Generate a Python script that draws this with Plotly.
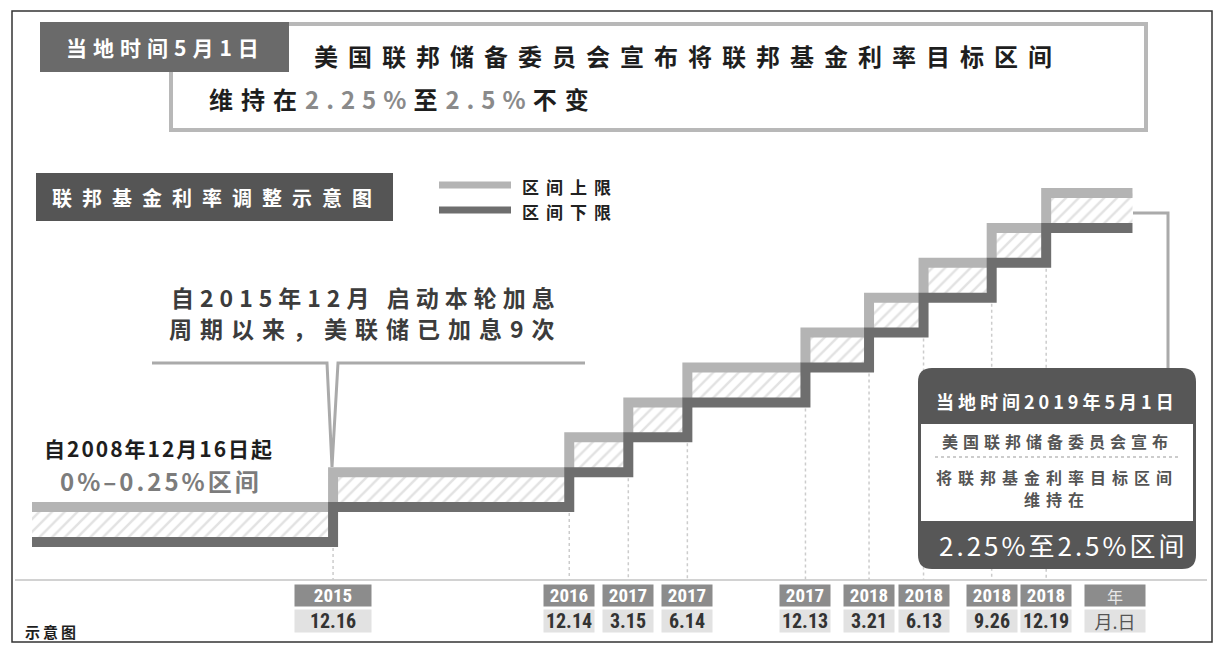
import plotly.graph_objects as go

W, H = 1218, 645

# ---------------- data ----------------
dates = ["2008-12-16", "2015-12-16", "2016-12-14", "2017-03-15", "2017-06-14",
         "2017-12-13", "2018-03-21", "2018-06-13", "2018-09-26", "2018-12-19",
         "2019-05-01"]
upper = [0.25, 0.50, 0.75, 1.00, 1.25, 1.50, 1.75, 2.00, 2.25, 2.50, 2.50]
lower = [0.00, 0.25, 0.50, 0.75, 1.00, 1.25, 1.50, 1.75, 2.00, 2.25, 2.25]

hike_dates = dates[1:10]
hike_years = ["2015", "2016", "2017", "2017", "2017", "2018", "2018", "2018", "2018"]
hike_md = ["12.16", "12.14", "3.15", "6.14", "12.13", "3.21", "6.13", "9.26", "12.19"]

legend_names = ["区间上限", "区间下限"]

# ---------------- helpers ----------------
def X(px):
    return px / W

def Y(py):
    return 1 - py / H

CJK = "Noto Sans CJK SC, Noto Sans, sans-serif"
NARROW = "Liberation Sans Narrow, Roboto Condensed, Roboto, sans-serif"

def sp(s, ls):
    return f'<span style="letter-spacing:{ls}px">{s}</span>'

C_UP = "#b4b4b4"
C_LO = "#6e6e6e"

fig = go.Figure()

# hatch between the bounds
fig.add_trace(go.Scatter(x=dates, y=lower, mode="lines",
                         line=dict(width=0, shape="hv", color="rgba(0,0,0,0)"),
                         hoverinfo="skip", showlegend=False))
fig.add_trace(go.Scatter(x=dates, y=upper, mode="lines",
                         line=dict(width=0, shape="hv", color="rgba(0,0,0,0)"),
                         fill="tonexty", fillcolor="white",
                         fillpattern=dict(shape="/", fgcolor="#c6c6c6", bgcolor="white",
                                          size=9, solidity=0.28),
                         hoverinfo="skip", showlegend=False))
# bounds
fig.add_trace(go.Scatter(x=dates, y=upper, mode="lines", name=legend_names[0],
                         line=dict(width=10, shape="hv", color=C_UP),
                         showlegend=False))
fig.add_trace(go.Scatter(x=dates, y=lower, mode="lines", name=legend_names[1],
                         line=dict(width=10, shape="hv", color=C_LO),
                         showlegend=False))

# y mapping: rate 0 -> 542 px, 139.6 px per 1%
y_zero_px, k = 542, 139.6
y_lo = (y_zero_px - 580) / k
y_hi = (y_zero_px - 150) / k

shapes = []
annos = []

# outer frame
shapes.append(dict(type="rect", xref="paper", yref="paper", x0=X(12), x1=X(1212),
                   y0=Y(642), y1=Y(11), line=dict(color="#333", width=1.5), layer="below"))
# baseline
shapes.append(dict(type="line", xref="paper", yref="paper", x0=X(15), x1=X(1207),
                   y0=Y(580), y1=Y(580), line=dict(color="#d2d2d2", width=2), layer="below"))
# dotted drop lines at each hike
for i, d in enumerate(hike_dates):
    shapes.append(dict(type="line", xref="x", yref="y", x0=d, x1=d,
                       y0=lower[i], y1=y_lo,
                       line=dict(color="#cccccc", width=1.5, dash="dot"), layer="below"))

# header boxes
shapes.append(dict(type="rect", xref="paper", yref="paper", x0=X(171), x1=X(1146),
                   y0=Y(130), y1=Y(24), line=dict(color="#b8b8b8", width=4),
                   fillcolor="white"))
shapes.append(dict(type="rect", xref="paper", yref="paper", x0=X(40), x1=X(289),
                   y0=Y(72), y1=Y(22), line=dict(width=0), fillcolor="#6a6a6a"))
# section label box
shapes.append(dict(type="rect", xref="paper", yref="paper", x0=X(36), x1=X(393),
                   y0=Y(221), y1=Y(173), line=dict(width=0), fillcolor="#555555"))
# legend lines
shapes.append(dict(type="line", xref="paper", yref="paper", x0=X(439), x1=X(511),
                   y0=Y(185), y1=Y(185), line=dict(color=C_UP, width=7)))
shapes.append(dict(type="line", xref="paper", yref="paper", x0=X(439), x1=X(511),
                   y0=Y(210), y1=Y(210), line=dict(color=C_LO, width=7)))
# bracket with V notch
bp = (f"M {X(152)},{Y(363)} L {X(327)},{Y(363)} L {X(332)},{Y(467)} "
      f"L {X(338)},{Y(363)} L {X(585)},{Y(363)}")
shapes.append(dict(type="path", xref="paper", yref="paper", path=bp,
                   line=dict(color="#aaaaaa", width=3)))
# connector to callout
cp = f"M {X(1133)},{Y(213)} L {X(1168)},{Y(213)} L {X(1168)},{Y(369)}"
shapes.append(dict(type="path", xref="paper", yref="paper", path=cp,
                   line=dict(color="#aaaaaa", width=3)))

# callout box (rounded)
def rrect(x0, y0, x1, y1, r):
    rx, ry = r / W, r / H
    a0, a1 = X(x0), X(x1)
    b0, b1 = Y(y0), Y(y1)  # b0 top, b1 bottom (paper)
    return (f"M {a0+rx},{b0} L {a1-rx},{b0} Q {a1},{b0} {a1},{b0-ry} "
            f"L {a1},{b1+ry} Q {a1},{b1} {a1-rx},{b1} L {a0+rx},{b1} "
            f"Q {a0},{b1} {a0},{b1+ry} L {a0},{b0-ry} Q {a0},{b0} {a0+rx},{b0} Z")

shapes.append(dict(type="path", xref="paper", yref="paper",
                   path=rrect(918, 368, 1196, 569, 14),
                   fillcolor="#575757", line=dict(width=0)))
shapes.append(dict(type="rect", xref="paper", yref="paper", x0=X(921), x1=X(1193),
                   y0=Y(521), y1=Y(424), fillcolor="white", line=dict(width=0)))
shapes.append(dict(type="line", xref="paper", yref="paper", x0=X(935), x1=X(1180),
                   y0=Y(457), y1=Y(457), line=dict(color="#9a9a9a", width=1.2, dash="dot")))

def txt(s, x, y, size, color, anchor="center", ls=0, bold=True, family=CJK):
    t = s if ls == 0 else sp(s, ls)
    if bold:
        t = f"<b>{t}</b>"
    annos.append(dict(text=t, x=X(x), y=Y(y), xref="paper", yref="paper",
                      xanchor=anchor, yanchor="middle", showarrow=False,
                      font=dict(family=family, size=size, color=color)))

# header texts
txt("当地时间5月1日", 165, 47, 21, "white", ls=6)
txt("美国联邦储备委员会宣布将联邦基金利率目标区间", 312, 55, 24, "#1e1e1e", anchor="left", ls=10)
annos.append(dict(
    text=("<b>" + sp("维持在", 8) + sp("<span style='color:#8a8a8a'>2.25%</span>", 7)
          + sp("至", 8) + sp("<span style='color:#8a8a8a'>2.5%</span>", 7)
          + sp("不变", 8) + "</b>"),
    x=X(207), y=Y(98), xref="paper", yref="paper", xanchor="left", yanchor="middle",
    showarrow=False, font=dict(family=CJK, size=24, color="#1e1e1e")))

txt("联邦基金利率调整示意图", 50, 197, 20, "white", anchor="left", ls=10)
txt(legend_names[0], 520, 186, 17, "#222", anchor="left", ls=7)
txt(legend_names[1], 520, 211, 17, "#222", anchor="left", ls=7)

txt("自2015年12月 启动本轮加息", 366, 297, 23, "#3c3c3c", ls=6)
txt("周期以来，美联储已加息9次", 366, 328, 23, "#3c3c3c", ls=8)

txt("自2008年12月16日起", 42, 448, 21, "#1e1e1e", anchor="left", ls=2)
txt("0%–0.25%区间", 58, 480, 24, "#7c7c7c", anchor="left", ls=3)

# callout texts
txt("当地时间2019年5月1日", 1057, 401, 18, "white", ls=4)
txt("美国联邦储备委员会宣布", 1057, 441, 16, "#555", ls=5)
txt("将联邦基金利率目标区间", 1057, 477, 16, "#555", ls=6)
txt("维持在", 1057, 499, 16, "#555", ls=6)
txt("2.25%至2.5%区间", 1063, 544, 26, "white", ls=3, bold=False)

txt("示意图", 23, 631, 15, "#1e1e1e", anchor="left", ls=3)

# tick labels
for i, (d, yr, md) in enumerate(zip(hike_dates, hike_years, hike_md)):
    w = 76 if i == 0 else 50
    annos.append(dict(text=f"<b>{yr}</b>", x=d, y=Y(595.5), xref="x", yref="paper",
                      xanchor="center", yanchor="middle", showarrow=False,
                      width=w, height=21, bgcolor="#8c8c8c", borderpad=0,
                      font=dict(family=NARROW, size=19, color="white")))
    annos.append(dict(text=f"<b>{md}</b>", x=d, y=Y(621), xref="x", yref="paper",
                      xanchor="center", yanchor="middle", showarrow=False,
                      width=w, height=22, bgcolor="#e2e2e2", borderpad=0,
                      font=dict(family=NARROW, size=20, color="#333")))
annos.append(dict(text="年", x=X(1115), y=Y(595.5), xref="paper", yref="paper",
                  xanchor="center", yanchor="middle", showarrow=False,
                  width=60, height=21, bgcolor="#8c8c8c", borderpad=0,
                  font=dict(family=CJK, size=16, color="#e8e8e8")))
annos.append(dict(text="月.日", x=X(1115), y=Y(621), xref="paper", yref="paper",
                  xanchor="center", yanchor="middle", showarrow=False,
                  width=60, height=22, bgcolor="#e2e2e2", borderpad=0,
                  font=dict(family=CJK, size=18, color="#555")))

fig.update_layout(
    width=W, height=H, margin=dict(l=0, r=0, t=0, b=0),
    paper_bgcolor="white", plot_bgcolor="rgba(0,0,0,0)",
    showlegend=False, shapes=shapes, annotations=annos,
    xaxis=dict(type="date", domain=[X(32), X(1150)],
               range=["2008-12-16", "2019-05-28"],
               rangebreaks=[dict(bounds=["2009-06-01", "2015-02-22"])],
               showgrid=False, zeroline=False, showticklabels=False, ticks="",
               showline=False, fixedrange=True),
    yaxis=dict(domain=[Y(580), Y(150)], range=[y_lo, y_hi],
               showgrid=False, zeroline=False, showticklabels=False, ticks="",
               showline=False, fixedrange=True),
)

fig.write_html("out.html", config={"displayModeBar": False})
